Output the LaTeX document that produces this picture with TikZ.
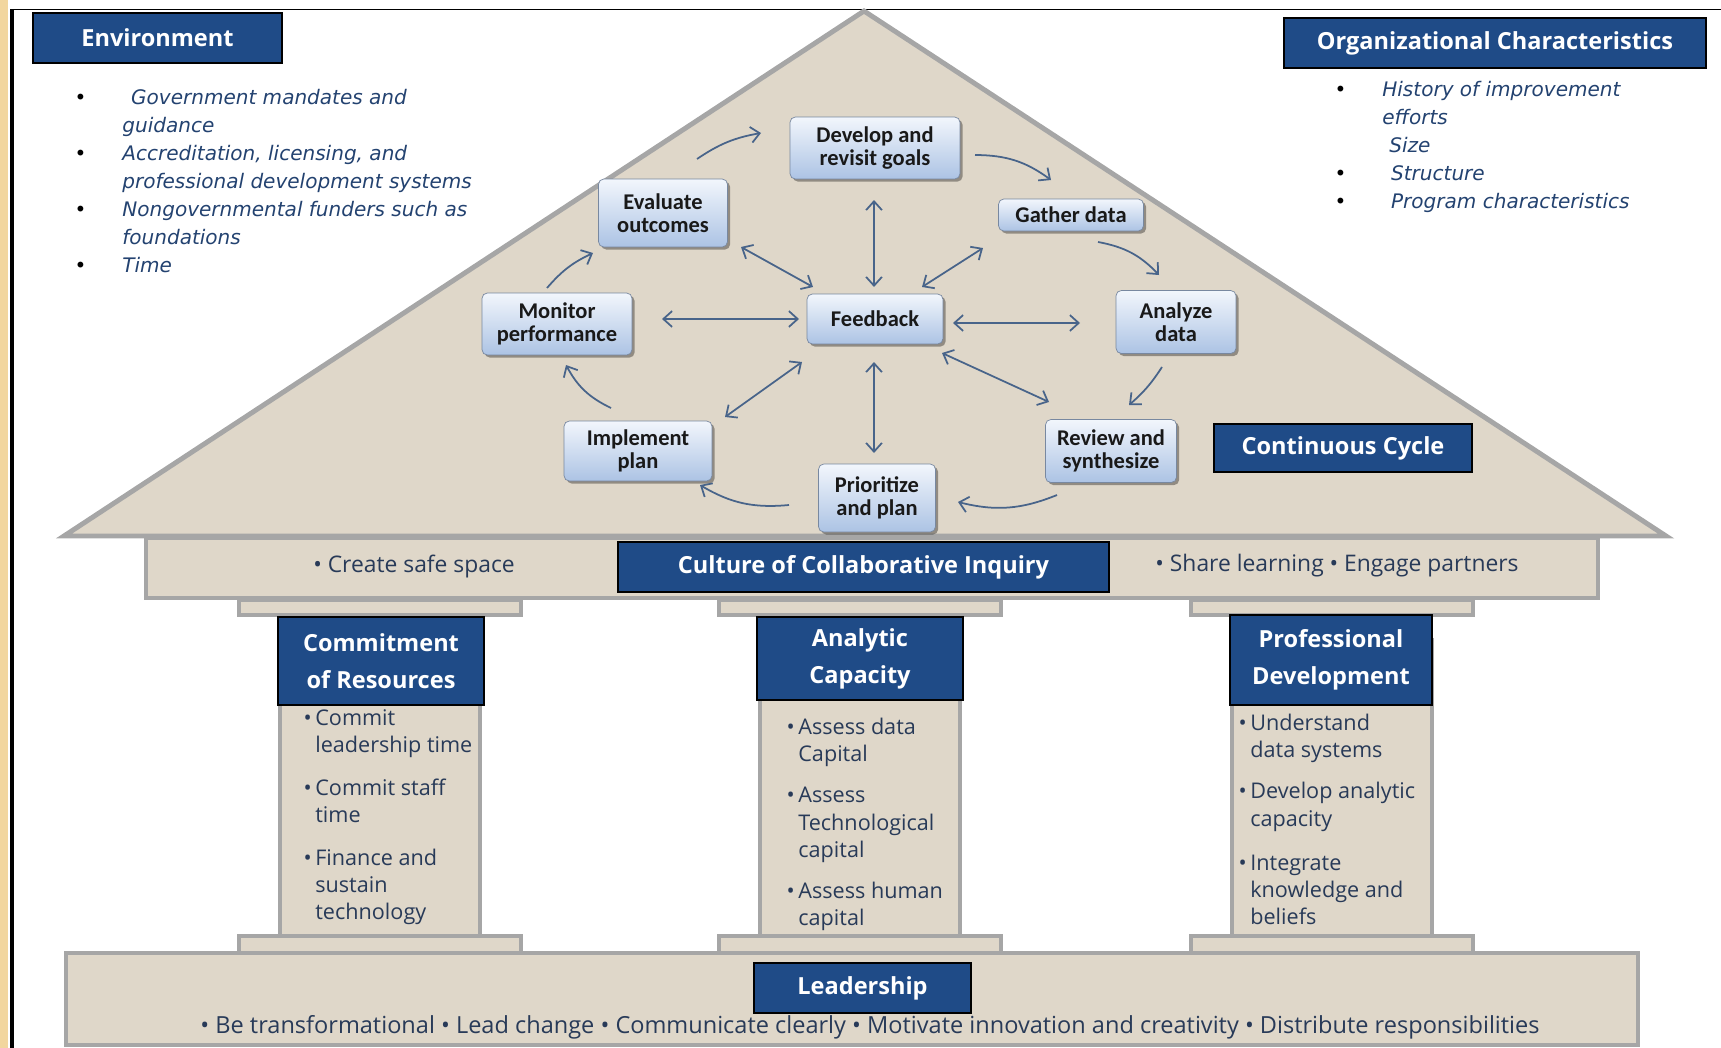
\documentclass[tikz,border=0pt]{standalone}
\usepackage{fontspec}
\setmainfont{Open Sans}
\newfontfamily\boxfont{Carlito}
\newfontfamily\listfont{DejaVu Sans}
\usetikzlibrary{arrows.meta, positioning, calc, shadows}
\definecolor{titleblue}{RGB}{31, 75, 135}
\definecolor{sand}{RGB}{223, 215, 201}
\definecolor{stone}{RGB}{166, 166, 166}
\definecolor{cyctop}{RGB}{242, 246, 252}
\definecolor{cycbot}{RGB}{172, 195, 228}
\definecolor{arrowblue}{RGB}{72, 100, 138}
\definecolor{listblue}{RGB}{35, 66, 112}
\definecolor{inktext}{RGB}{40, 58, 88}
\definecolor{frameorange}{RGB}{242, 214, 158}
\newcommand{\sidedot}{\llap{\textcolor{black}{\upshape\textbullet}\hspace{0.72cm}}}
\newcommand{\pilldot}{\llap{\textbullet\,}}
\tikzset{
  titlebox/.style={draw=black, line width=0.8pt, fill=titleblue, text=white,
    font=\bfseries\fontsize{13.4}{21}\selectfont, align=center, inner sep=0pt},
  cycbox/.style={rounded corners=3pt, top color=cyctop, bottom color=cycbot,
    draw=cycbot!70!black, line width=0.4pt, text=black!90, align=center, inner sep=0pt,
    drop shadow={shadow xshift=1.5pt, shadow yshift=-1.5pt, fill=black, opacity=0.35},
    font=\boxfont\bfseries\fontsize{12.8}{13.2}\selectfont},
  stonework/.style={fill=sand, draw=stone, line width=2.8pt},
  sidelist/.style={anchor=north west, align=left, inner sep=0pt, text=listblue,
    font=\listfont\itshape\fontsize{11.4}{15.9}\selectfont},
  pilltext/.style={anchor=north west, align=left, inner sep=0pt, text=inktext,
    font=\fontsize{12.3}{15.4}\selectfont},
  beamtext/.style={text=inktext, inner sep=0pt, font=\fontsize{13}{15}\selectfont},
  cycarrow/.style={-{Straight Barb[length=5pt, width=9pt]}, draw=arrowblue, line width=1pt, bend left=18},
  fbarrow/.style={{Straight Barb[length=5pt, width=9pt]}-{Straight Barb[length=5pt, width=9pt]},
    draw=arrowblue, line width=1pt}
}

\begin{document}
\begin{tikzpicture}[x=0.02cm, y=-0.02cm]
  \useasboundingbox (0,0) rectangle (1721,1048);
  \fill[frameorange] (0,0) rectangle (8,1048);
  \draw[line width=2.2pt] (12,9) -- (12,1048);
  \draw[line width=0.7pt] (12,9.5) -- (1721,9.5);

  % the building
  \draw[stonework] (64,536) -- (864,11) -- (1666,536) -- cycle;
  \draw[stonework] (146,538) rectangle (1598,598);
  \foreach \cx in {380, 860, 1332} {
    \draw[stonework] (\cx-141,600) rectangle (\cx+141,615);
    \draw[stonework] (\cx-100,640) rectangle (\cx+100,938);
    \draw[stonework] (\cx-141,936) rectangle (\cx+141,953);
  }
  \draw[stonework] (66,953) rectangle (1638,1045);

  % side panels
  \node[titlebox, minimum width=4.98cm, minimum height=1cm] (envtitle) at (157.5,38) {Environment};
  \node[sidelist] (envitems) at (122,89) {%
    \sidedot\hspace{5pt}Government mandates and\\
    guidance\\
    \sidedot Accreditation, licensing, and\\
    professional development systems\\
    \sidedot Nongovernmental funders such as\\
    foundations\\
    \sidedot Time};
  \node[titlebox, minimum width=8.44cm, minimum height=1cm] (orgtitle) at (1495,43) {Organizational Characteristics};
  \node[sidelist] (orgitems) at (1382,81) {%
    \sidedot History of improvement\\
    efforts\\
    \hspace{4pt}Size\\
    \sidedot\hspace{5pt}Structure\\
    \sidedot\hspace{5pt}Program characteristics};
  \node[titlebox, minimum width=5.16cm, minimum height=0.96cm] (cycle) at (1343,448) {Continuous Cycle};

  % the cycle
  \node[cycbox, minimum width=3.4cm, minimum height=1.24cm] (dev) at (875,148) {Develop and\\revisit goals};
  \node[cycbox, minimum width=2.9cm, minimum height=0.64cm] (gath) at (1071,215) {Gather data};
  \node[cycbox, minimum width=2.4cm, minimum height=1.26cm] (anal) at (1176,322) {Analyze\\data};
  \node[cycbox, minimum width=2.62cm, minimum height=1.26cm] (rev) at (1111,451) {Review and\\synthesize};
  \node[cycbox, minimum width=2.34cm, minimum height=1.36cm] (prio) at (877,498) {Prioritize\\and plan};
  \node[cycbox, minimum width=2.96cm, minimum height=1.2cm] (impl) at (638,451) {Implement\\plan};
  \node[cycbox, minimum width=3cm, minimum height=1.24cm] (mon) at (557,324) {Monitor\\performance};
  \node[cycbox, minimum width=2.58cm, minimum height=1.36cm] (eval) at (663,213) {Evaluate\\outcomes};
  \node[cycbox, minimum width=2.72cm, minimum height=1cm] (fb) at (875,319) {Feedback};

  \draw[cycarrow, bend left=12] ([shift={(34,-54)}]eval.center) to ([shift={(-114,-15)}]dev.center);
  \draw[cycarrow] ([shift={(100,7)}]dev.center) to ([shift={(-20,-35)}]gath.center);
  \draw[cycarrow] ([shift={(27,27)}]gath.center) to ([shift={(-17,-47)}]anal.center);
  \draw[cycarrow, bend left=8] ([shift={(-14,45)}]anal.center) to ([shift={(18,-46)}]rev.center);
  \draw[cycarrow] ([shift={(-54,44)}]rev.center) to ([shift={(81,4)}]prio.center);
  \draw[cycarrow] ([shift={(-88,7)}]prio.center) to ([shift={(62,34)}]impl.center);
  \draw[cycarrow] ([shift={(-27,-43)}]impl.center) to ([shift={(9,41)}]mon.center);
  \draw[cycarrow, bend left=12] ([shift={(-10,-36)}]mon.center) to ([shift={(-70,40)}]eval.center);

  \draw[fbarrow] ([shift={(-1,-32)}]fb.center) -- ([shift={(-1,52)}]dev.center);
  \draw[fbarrow] ([shift={(47,-32)}]fb.center) -- ([shift={(-88,33)}]gath.center);
  \draw[fbarrow] ([shift={(78,4)}]fb.center) -- ([shift={(-96,1)}]anal.center);
  \draw[fbarrow] ([shift={(67,34)}]fb.center) -- ([shift={(-62,-49)}]rev.center);
  \draw[fbarrow] ([shift={(-1,43)}]fb.center) -- ([shift={(-3,-45)}]prio.center);
  \draw[fbarrow] ([shift={(-73,43)}]fb.center) -- ([shift={(87,-34)}]impl.center);
  \draw[fbarrow] ([shift={(-76,0)}]fb.center) -- ([shift={(105,-5)}]mon.center);
  \draw[fbarrow] ([shift={(-62,-32)}]fb.center) -- ([shift={(78,34)}]eval.center);

  % beam
  \node[titlebox, minimum width=9.82cm, minimum height=1cm] (culture) at (863.5,567) {Culture of Collaborative Inquiry};
  \node[beamtext] (safe) at (414,566) {\textbullet\ Create safe space};
  \node[beamtext] (share) at (1337,566) {\textbullet\ Share learning \textbullet\ Engage partners};

  % pillars
  \node[titlebox, minimum width=4.12cm, minimum height=1.76cm] (resources) at (381,661) {Commitment\\of Resources};
  \node[titlebox, minimum width=4.12cm, minimum height=1.66cm] (analytic) at (860,658.5) {Analytic\\Capacity};
  \node[titlebox, minimum width=4.04cm, minimum height=1.8cm] (profdev) at (1331,660) {Professional\\Development};
  \node[pilltext] (resitems) at (315,709) {%
    \pilldot Commit\\ leadership time\\[9pt]
    \pilldot Commit staff\\ time\\[9pt]
    \pilldot Finance and\\ sustain\\ technology};
  \node[pilltext] (anaitems) at (798,718) {%
    \pilldot Assess data\\ Capital\\[8pt]
    \pilldot Assess\\ Technological\\ capital\\[8pt]
    \pilldot Assess human\\ capital};
  \node[pilltext] (proitems) at (1250,714) {%
    \pilldot Understand\\ data systems\\[8pt]
    \pilldot Develop analytic\\ capacity\\[10pt]
    \pilldot Integrate\\ knowledge and\\ beliefs};

  % foundation
  \node[titlebox, minimum width=4.34cm, minimum height=1cm] (lead) at (862.5,988) {Leadership};
  \node[beamtext, font=\fontsize{13.4}{15}\selectfont] (leaditems) at (870,1027) {\textbullet\ Be transformational \textbullet\ Lead change \textbullet\ Communicate clearly \textbullet\ Motivate innovation and creativity \textbullet\ Distribute responsibilities};
\end{tikzpicture}
\end{document}
